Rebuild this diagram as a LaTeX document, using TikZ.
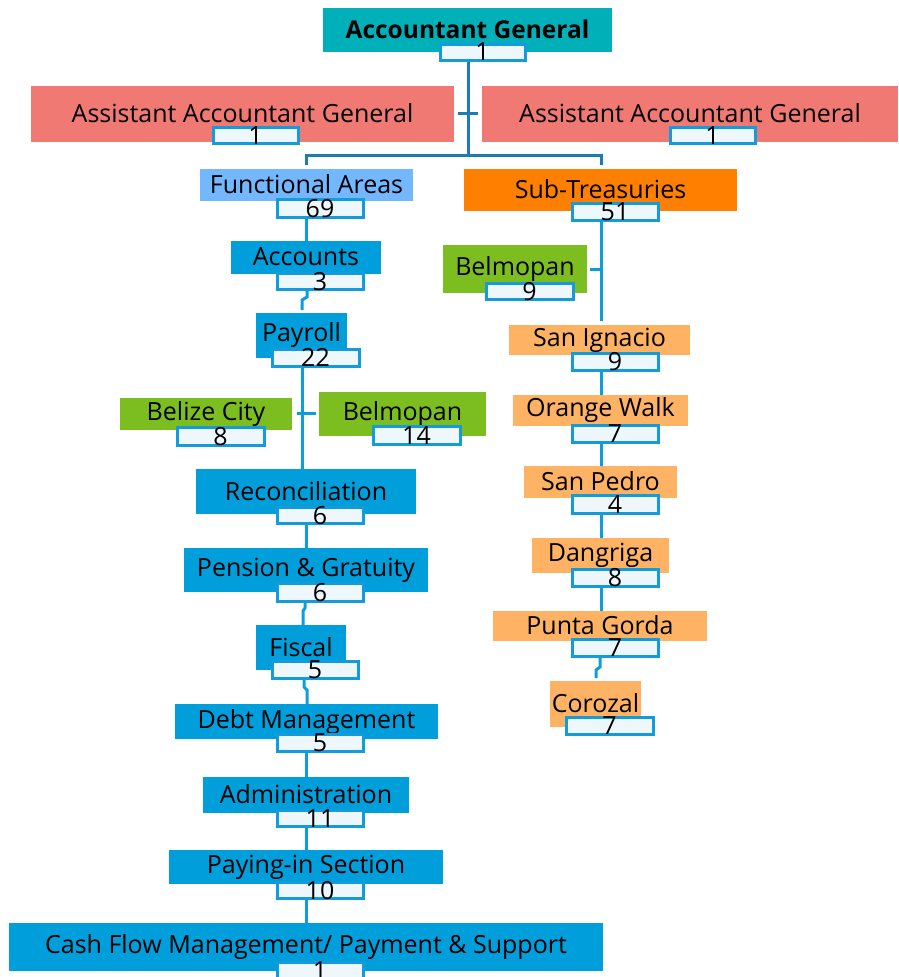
\documentclass[tikz,border=0pt]{standalone}
\usepackage{fontspec}
\setmainfont{Open Sans}
\usetikzlibrary{backgrounds,calc}
\definecolor{agteal}{RGB}{0,176,185}
\definecolor{salmon}{RGB}{240,122,115}
\definecolor{fablue}{RGB}{115,183,255}
\definecolor{storange}{RGB}{255,128,0}
\definecolor{unitblue}{RGB}{0,158,219}
\definecolor{leafgreen}{RGB}{124,190,32}
\definecolor{lorange}{RGB}{253,178,100}
\definecolor{numborder}{RGB}{20,155,220}
\definecolor{numfill}{RGB}{238,247,252}
\definecolor{topline}{RGB}{28,125,180}
\definecolor{lowline}{RGB}{12,158,218}
\tikzset{
  unit/.style={inner sep=0pt, outer sep=0pt, font=\fontsize{25}{28}\selectfont},
  agbox/.style={unit, fill=agteal, font=\fontsize{24.5}{28}\selectfont\bfseries},
  aagbox/.style={unit, fill=salmon},
  fabox/.style={unit, fill=fablue},
  stbox/.style={unit, fill=storange},
  bluebox/.style={unit, fill=unitblue},
  greenbox/.style={unit, fill=leafgreen},
  orbox/.style={unit, fill=lorange},
  numbox/.style={draw=numborder, line width=3pt, fill=numfill, inner sep=0pt, outer sep=0pt, font=\fontsize{25}{28}\selectfont},
  conn1/.style={draw=topline, line width=3pt},
  conn2/.style={draw=lowline, line width=3pt},
}
\newcommand\orgbox[7]{%
  \node[#6, minimum width={(#4-#2)*1pt}, minimum height={(#5-#3)*1pt}] (#1) at ({(#2+#4)/2},{(#3+#5)/2}) {\raisebox{1.5pt}{#7}};}
\newcommand\numtag[6]{%
  \node[numbox, minimum width={(#4-#2)*1pt}, minimum height={(#5-#3)*1pt}] (#1) at ({(#2+#4)/2},{(#3+#5)/2}) {\raisebox{-9pt}[0pt][0pt]{#6}};}
\begin{document}
\begin{tikzpicture}[x=1pt,y=-1pt]
\useasboundingbox (0,0) rectangle (898,977);
% top
\orgbox{ag}{323}{8}{612}{52}{agbox}{Accountant General}
\numtag{agn}{440}{44}{525}{60}{1}
\orgbox{aagl}{31}{86}{454}{142}{aagbox}{Assistant Accountant General}
\numtag{aagln}{213}{127}{298}{143}{1}
\orgbox{aagr}{482}{86}{898}{142}{aagbox}{Assistant Accountant General}
\numtag{aagrn}{670}{127}{755}{143}{1}
\orgbox{fa}{200}{169}{413}{201}{fabox}{Functional Areas}
\numtag{fan}{277}{199}{363}{217}{69}
\orgbox{st}{464}{169}{737}{211}{stbox}{Sub-Treasuries}
\numtag{stn}{572}{203}{658}{220}{51}
% left column
\orgbox{acc}{231}{241}{381}{274}{bluebox}{Accounts}
\numtag{accn}{277}{273}{363}{289}{3}
\orgbox{pay}{256}{313}{347}{358}{bluebox}{Payroll}
\numtag{payn}{272}{349}{359}{366}{22}
\orgbox{bc}{120}{398}{292}{430}{greenbox}{Belize City}
\numtag{bcn}{177}{427}{264}{445}{8}
\orgbox{bel}{319}{392}{486}{436}{greenbox}{Belmopan}
\numtag{beln}{373}{426}{460}{444}{14}
\orgbox{rec}{196}{469}{416}{514}{bluebox}{Reconciliation}
\numtag{recn}{277}{507}{363}{523}{6}
\orgbox{pen}{184}{548}{428}{592}{bluebox}{Pension \& Gratuity}
\numtag{penn}{277}{583}{363}{601}{6}
\orgbox{fis}{256}{625}{346}{670}{bluebox}{Fiscal}
\numtag{fisn}{272}{661}{358}{678}{5}
\orgbox{debt}{175}{704}{438}{739}{bluebox}{Debt Management}
\numtag{debtn}{277}{734}{363}{751}{5}
\orgbox{adm}{203}{777}{409}{813}{bluebox}{Administration}
\numtag{admn}{277}{810}{363}{826}{11}
\orgbox{pis}{169}{850}{443}{884}{bluebox}{Paying-in Section}
\numtag{pisn}{277}{882}{363}{898}{10}
\orgbox{cf}{9}{923}{603}{971}{bluebox}{Cash Flow Management/ Payment \& Support}
\numtag{cfn}{277}{962}{363}{978}{1}
% right column
\orgbox{belr}{443}{245}{587}{293}{greenbox}{Belmopan}
\numtag{belrn}{486}{283}{573}{299}{9}
\orgbox{si}{509}{325}{690}{355}{orbox}{San Ignacio}
\numtag{sin}{572}{353}{658}{370}{9}
\orgbox{ow}{513}{395}{688}{426}{orbox}{Orange Walk}
\numtag{own}{572}{425}{658}{442}{7}
\orgbox{sp}{524}{466}{677}{498}{orbox}{San Pedro}
\numtag{spn}{572}{495}{658}{513}{4}
\orgbox{dg}{532}{538}{669}{573}{orbox}{Dangriga}
\numtag{dgn}{572}{569}{658}{586}{8}
\orgbox{pg}{493}{611}{707}{641}{orbox}{Punta Gorda}
\numtag{pgn}{572}{639}{658}{656}{7}
\orgbox{cz}{550}{681}{641}{727}{orbox}{Corozal}
\numtag{czn}{566}{717}{653}{734}{7}
\coordinate (hub) at (468,155);
\coordinate (hl) at (306,155);
\coordinate (hr) at (601,155);
\begin{pgfonlayer}{background}
  \draw[conn1] (agn.south -| hub) -- (hub);
  \draw[conn1, shorten <=4pt, shorten >=4pt] (aagl.east |- 0,113) -- (aagr.west |- 0,113);
  \draw[conn1, shorten <=4pt, shorten >=4pt] (fa.north -| hl) -- (hl) -- (hr) -- (st.north -| hr);
  % left column
  \draw[conn2] (fan.south -| 306,0) -- (acc.north -| 306,0);
  \draw[conn2, shorten >=3pt] (accn.south -| 307,0) -- (307,297) -- (302,300) -- (pay.north -| 302,0);
  \draw[conn2] (payn.south -| 302,0) -- (rec.north -| 302,0);
  \draw[conn2, shorten <=5pt, shorten >=3pt] (bc.east |- 0,413) -- (bel.west |- 0,413);
  \draw[conn2] (recn.south -| 306,0) -- (pen.north -| 306,0);
  \draw[conn2] (penn.south -| 305,0) -- (305,608) -- (303,611) -- (fis.north -| 303,0);
  \draw[conn2] (fisn.south -| 304,0) -- (304,687) -- (307,690) -- (debt.north -| 307,0);
  \draw[conn2] (debtn.south -| 306,0) -- (adm.north -| 306,0);
  \draw[conn2] (admn.south -| 306,0) -- (pis.north -| 306,0);
  \draw[conn2] (pisn.south -| 306,0) -- (cf.north -| 306,0);
  % right column
  \draw[conn2, shorten >=4pt] (stn.south -| 601,0) -- (si.north -| 601,0);
  \draw[conn2, shorten <=3pt] (belr.east |- 0,269) -- (601,269);
  \draw[conn2] (sin.south -| 601,0) -- (ow.north -| 601,0);
  \draw[conn2] (own.south -| 601,0) -- (sp.north -| 601,0);
  \draw[conn2] (spn.south -| 601,0) -- (dg.north -| 601,0);
  \draw[conn2] (dgn.south -| 601,0) -- (pg.north -| 601,0);
  \draw[conn2, shorten >=3pt] (pgn.south -| 600,0) -- (600,667) -- (596,670) -- (cz.north -| 596,0);
\end{pgfonlayer}
\end{tikzpicture}
\end{document}
